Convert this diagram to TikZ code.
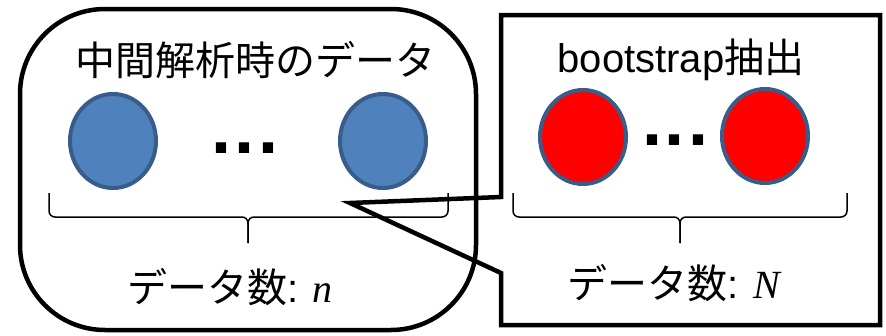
\documentclass[tikz,border=0pt]{standalone}
\usepackage{fontspec}
\setmainfont{Liberation Sans}
\newfontfamily\cjk{Noto Sans CJK JP}
\newfontfamily\varfont{Liberation Serif}
\usetikzlibrary{shapes.geometric, positioning}
\definecolor{dotblue}{HTML}{4F81BD}
\definecolor{dotedge}{HTML}{385D8A}
\definecolor{dotred}{HTML}{FF0000}

\begin{document}
\begin{tikzpicture}[
        x=1pt, y=-1pt,
        frame/.style={draw=black, line width=4.5pt},
        sample/.style={ellipse, draw=dotedge, line width=4pt, minimum width=86pt, minimum height=94pt, inner sep=0pt},
        label/.style={font=\fontsize{40}{48}\selectfont, inner sep=0pt},
        gapdots/.style={font=\fontsize{72}{72}\selectfont\bfseries, inner sep=0pt},
        bracket/.style={draw=black, line width=1.5pt, rounded corners=6pt}
    ]
    \useasboundingbox (0,0) rectangle (886,335);

    % interim data
    \node[frame, rounded corners=85pt, minimum width=456pt, minimum height=321pt] (interim) at (248,169.5) {};
    \node[label] (title1) at (255,60) {{\cjk 中間解析時のデータ}};
    \node[sample, fill=dotblue] (blue1) at (113,141) {};
    \node[sample, fill=dotblue] (blue2) at (383,141) {};
    \node[gapdots] (gap1) at (245,148) {.\hspace{3pt}.\hspace{3pt}.};
    \draw[bracket] (49,193) -- (49,217) -- (248,217) -- (248,243);
    \draw[bracket] (448,193) -- (448,217) -- (248,217) -- (248,243);
    \node[label] (count1) at (230,287) {{\cjk データ数}: {\varfont\itshape n}};

    % bootstrap sample
    \coordinate (tip) at (350,203);
    \draw[frame, line join=miter] (501,197) |- (880,15) |- (501,325) -- (501,273) -- (tip) -- cycle;
    \node[label] (title2) at (681,60) {bootstrap{\cjk 抽出}};
    \node[sample, fill=dotred] (red1) at (583,137) {};
    \node[sample, fill=dotred] (red2) at (765,136) {};
    \node[gapdots] (gap2) at (675,140) {.\hspace{3pt}.\hspace{3pt}.};
    \draw[bracket] (513,193) -- (513,217) -- (680,217) -- (680,243);
    \draw[bracket] (847,193) -- (847,217) -- (680,217) -- (680,243);
    \node[label] (count2) at (674,283) {{\cjk データ数}: {\varfont\itshape N}};

\end{tikzpicture}
\end{document}
